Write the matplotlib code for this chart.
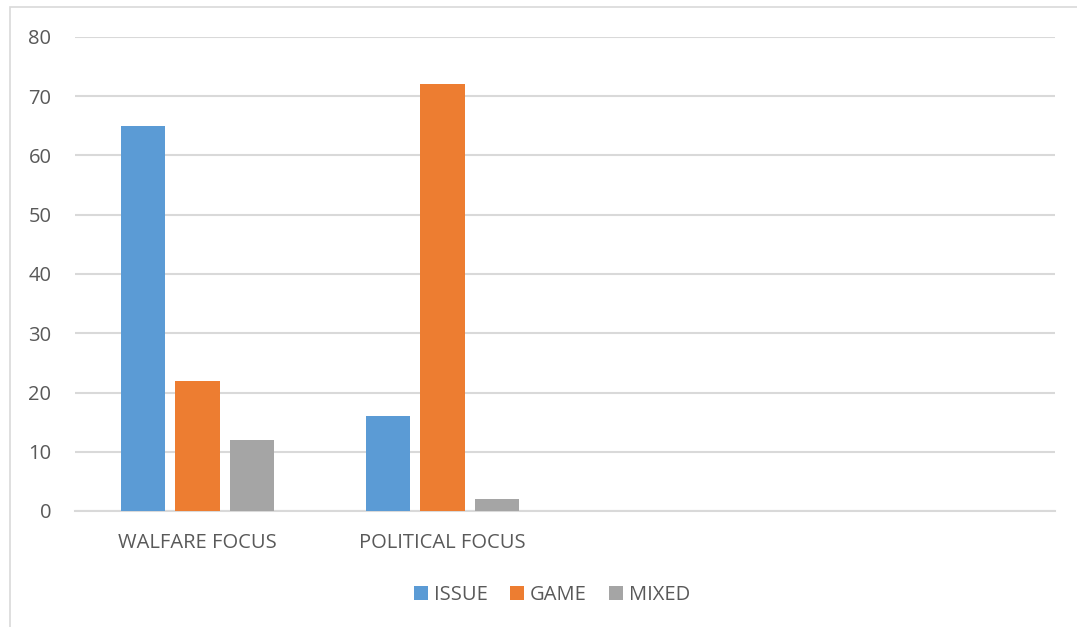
import matplotlib
matplotlib.use("Agg")
import matplotlib.pyplot as plt
from matplotlib.patches import Rectangle
import numpy as np

categories = ["WALFARE FOCUS", "POLITICAL FOCUS", "", ""]
series_names = ["ISSUE", "GAME", "MIXED"]
issue = [65, 16, 0, 0]
game = [22, 72, 0, 0]
mixed = [12, 2, 0, 0]
colors = ["#5B9BD5", "#ED7D31", "#A5A5A5"]
yticks = [0, 10, 20, 30, 40, 50, 60, 70, 80]

plt.rcParams['font.family'] = ['Open Sans', 'DejaVu Sans']

fig = plt.figure(figsize=(10.77, 6.27), dpi=100)
ax = fig.add_axes([75/1077, (627-511)/627, (1055-75)/1077, (511-37)/627])

# chart border
fig.patches.append(Rectangle((10/1077, -0.1), 1.2, (627-7)/627 + 0.1, transform=fig.transFigure,
                             fill=False, edgecolor="#D9D9D9", linewidth=1.2))

x = np.arange(len(categories))
width = 0.18
offset = 0.2225
data = [issue, game, mixed]
for i, (name, vals) in enumerate(zip(series_names, data)):
    ax.bar(x + (i - 1) * offset, vals, width, color=colors[i], label=name, zorder=3)

ax.set_xlim(-0.5, len(categories) - 0.5)
ax.set_ylim(0, 80)
ax.set_yticks(yticks)
ax.set_xticks(x)
ax.set_xticklabels(categories)
ax.yaxis.grid(True, color="#D9D9D9", linewidth=1.5, zorder=0)
ax.set_axisbelow(True)
for s in ["top", "right", "left"]:
    ax.spines[s].set_visible(False)
ax.spines["bottom"].set_color("#D9D9D9")
ax.spines["bottom"].set_linewidth(1.5)
ax.tick_params(axis="both", length=0, labelcolor="#595959", labelsize=14.5)
ax.tick_params(axis="y", pad=17)
ax.tick_params(axis="x", pad=16)

fig.legend(loc="center", bbox_to_anchor=(552/1077, 1 - 595/627), ncol=3, frameon=False,
           fontsize=14.5, labelcolor="#595959", handlelength=0.7, handleheight=0.7,
           handletextpad=0.3, columnspacing=1.1)

fig.savefig("out.png", dpi=100, facecolor="white")
